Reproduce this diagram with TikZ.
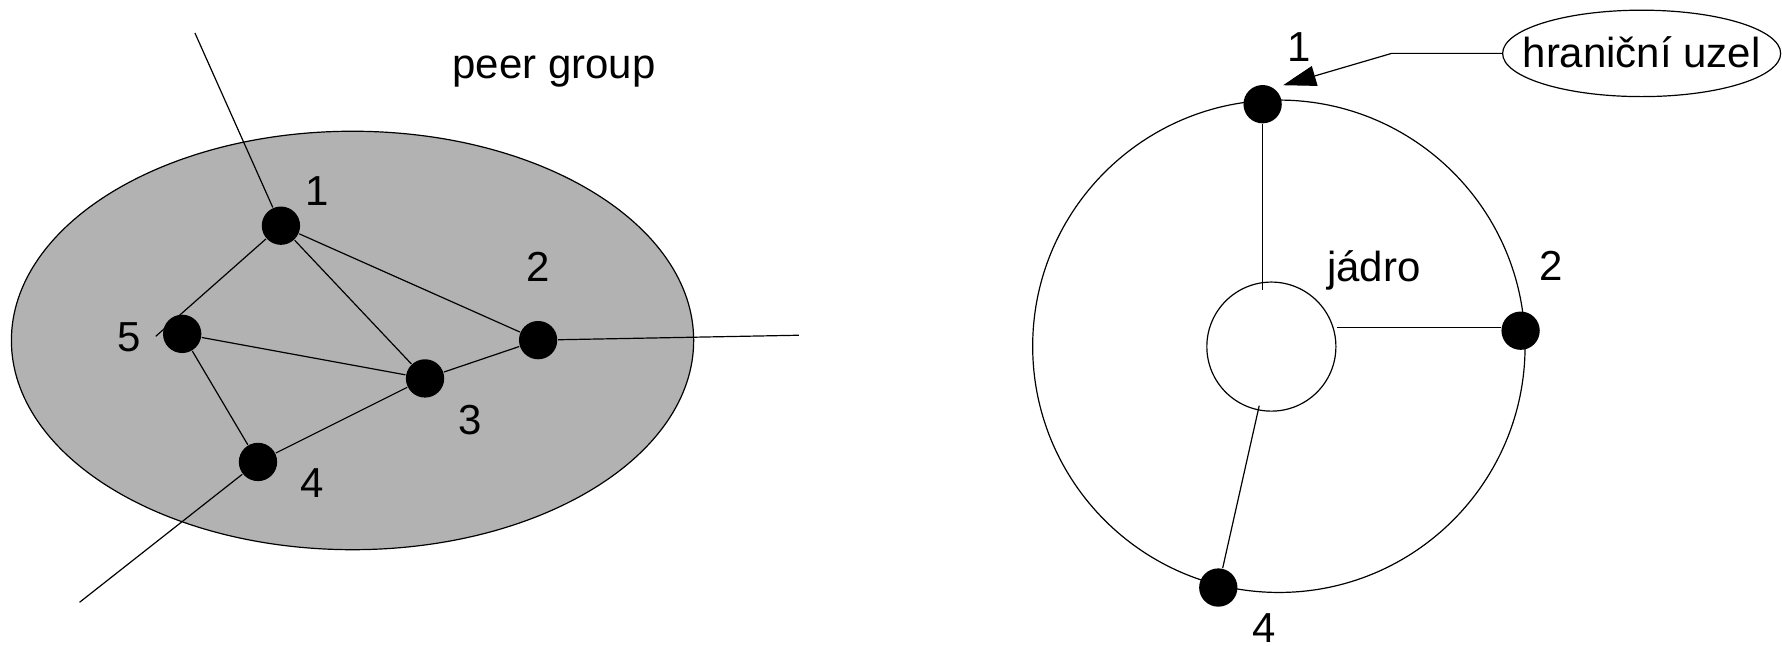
\documentclass[tikz,border=0pt]{standalone}
\usepackage{fontspec}
\setmainfont{Liberation Sans}
\usetikzlibrary{arrows.meta,shapes.geometric}
\begin{document}
\begin{tikzpicture}[x=0.01cm,y=-0.01cm,
  dot/.style={circle,fill=black,inner sep=0pt,minimum size=0.337cm},
  lbl/.style={font=\fontsize{10.5}{12}\selectfont,anchor=base,inner sep=0pt},
  edge/.style={draw=black,line width=0.3pt},
  ring/.style={draw=black,line width=0.3pt,inner sep=0pt}]
\useasboundingbox (0,0) rectangle (1568,568);
% ---------- left: peer group ----------
\node[ellipse,ring,fill=black!30,minimum width=6cm,minimum height=3.68cm] (pg) at (310.2,299.6) {};
\node[dot] (n1) at (247.2,198.6) {};
\node[dot] (n2) at (473.5,299.3) {};
\node[dot] (n3) at (374,333) {};
\node[dot] (n4) at (227,406.5) {};
\node[dot] (n5) at (160.3,293.8) {};
\coordinate (t1) at (171.5,29);
\coordinate (e5) at (137,296);
\coordinate (t2) at (703,295);
\coordinate (t4) at (70,530);
\draw[edge] (n1) -- (t1);
\draw[edge] (n1) -- (e5);
\draw[edge] (n1) -- (n3);
\draw[edge] (n1) -- (n2);
\draw[edge] (n5) -- (n3);
\draw[edge] (n5) -- (n4);
\draw[edge] (n4) -- (n3);
\draw[edge] (n3) -- (n2);
\draw[edge] (n2) -- (t2);
\draw[edge] (n4) -- (t4);
\node[lbl] (l1) at (279,181) {1};
\node[lbl] (l2) at (473.5,248) {2};
\node[lbl] (l3) at (413.6,382) {3};
\node[lbl] (l4) at (274.5,437.5) {4};
\node[lbl] (l5) at (114,309) {5};
\node[lbl] (lpg) at (487.5,69) {peer group};
% ---------- right: core ----------
\node[circle,ring,minimum size=4.33cm] (big) at (1125.3,304.7) {};
\node[circle,ring,minimum size=1.135cm] (core) at (1118.7,305) {};
\node[dot] (r1) at (1111,91.7) {};
\node[dot] (r2) at (1338,291) {};
\node[dot] (r4) at (1072,517) {};
\coordinate (c1) at (1108,255);
\coordinate (c2) at (1176.6,288);
\coordinate (c4) at (1108,357);
\draw[edge] (r1) -- (r1 |- c1) ;
\draw[edge] (c2) -- (c2 -| r2.west);
\draw[edge] (c4) -- (r4);
\node[lbl] (rl1) at (1143.5,54.5) {1};
\node[lbl] (rl2) at (1364.7,247) {2};
\node[lbl] (rl4) at (1112,565) {4};
\node[lbl] (jd) at (1209,248) {jádro};
\node[ellipse,ring,minimum width=2.445cm,minimum height=0.76cm] (hu) at (1444.5,47) {};
\node[lbl] (hut) at (1444.5,59) {hraniční uzel};
\coordinate (k) at (1224.5,47);
\coordinate (tip) at (1129,75);
\draw[edge,-{Triangle[length=0.29cm,width=0.18cm]}] (hu.west) -- (k) -- (tip);
\end{tikzpicture}
\end{document}
